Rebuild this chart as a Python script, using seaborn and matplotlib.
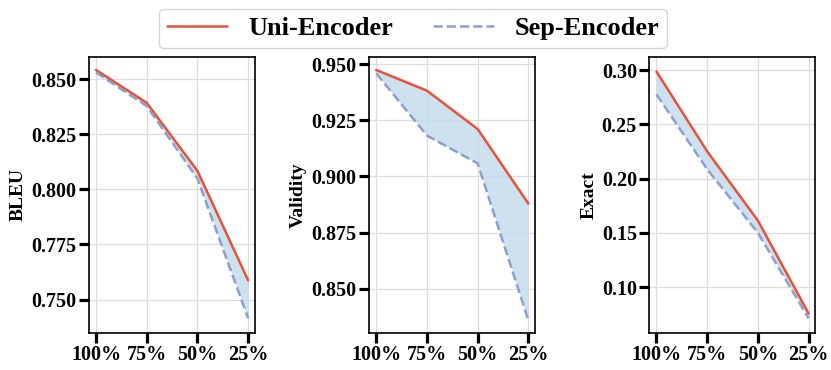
import matplotlib
matplotlib.use('Agg')
import matplotlib.pyplot as plt
import seaborn as sns
import numpy as np

ratios = ['100%', '75%', '50%', '25%']
metrics = ['BLEU', 'Validity', 'Exact']

uni_bleu = [0.8542, 0.8393, 0.8084, 0.7587]
sep_bleu = [0.8531, 0.8378, 0.8049, 0.7415]
uni_validity = [0.9474, 0.9382, 0.9211, 0.8879]
sep_validity = [0.9459, 0.9182, 0.9058, 0.8359]
uni_exact = [0.2985, 0.2250, 0.1612, 0.0757]
sep_exact = [0.2775, 0.2085, 0.1500, 0.0712]

uni = [uni_bleu, uni_validity, uni_exact]
sep = [sep_bleu, sep_validity, sep_exact]
ylims = [(0.7348, 0.8601), (0.8303, 0.9532), (0.0577, 0.312)]
yticks = [[0.750, 0.775, 0.800, 0.825, 0.850],
          [0.850, 0.875, 0.900, 0.925, 0.950],
          [0.10, 0.15, 0.20, 0.25, 0.30]]
yfmt = ['{:.3f}', '{:.3f}', '{:.2f}']

sns.set_style('whitegrid')
plt.rcParams['font.family'] = ['Liberation Serif', 'DejaVu Serif']
plt.rcParams['font.weight'] = 'bold'
plt.rcParams['text.color'] = 'black'
plt.rcParams['axes.labelcolor'] = 'black'
plt.rcParams['xtick.color'] = 'black'
plt.rcParams['ytick.color'] = 'black'

red = '#e8503a'
blue = '#8c9fcf'
fill = '#c5dcec'

fig, axes = plt.subplots(1, 3, figsize=(8.31, 3.70), dpi=100)
plt.subplots_adjust(left=0.107, right=0.981, top=0.846, bottom=0.1, wspace=0.69)

x = np.arange(len(ratios))
for i, ax in enumerate(axes):
    sns.lineplot(x=x, y=uni[i], ax=ax, color=red, linewidth=1.8, label='Uni-Encoder')
    sns.lineplot(x=x, y=sep[i], ax=ax, color=blue, linewidth=1.8, linestyle='--',
                 label='Sep-Encoder')
    ax.fill_between(x, uni[i], sep[i], color=fill, alpha=0.85, linewidth=0)
    ax.set_xlim(-0.14, 3.13)
    ax.set_ylim(*ylims[i])
    ax.set_xticks(x)
    ax.set_xticklabels(ratios, fontsize=14.5, fontweight='bold')
    ax.set_yticks(yticks[i])
    ax.set_yticklabels([yfmt[i].format(v) for v in yticks[i]], fontsize=14.5, fontweight='bold')
    ax.set_ylabel(metrics[i], fontsize=14, fontweight='bold', labelpad=3)
    ax.tick_params(axis='both', which='major', direction='out', length=7.5, width=2.3,
                   color='black', pad=1.5, left=True, bottom=True)
    ax.grid(True, color='#dddddd', linewidth=0.9)
    for s in ax.spines.values():
        s.set_color('black')
        s.set_linewidth(1.2)
    ax.get_legend().remove()

handles, labels = axes[0].get_legend_handles_labels()
fig.legend(handles, labels, loc='upper center', bbox_to_anchor=(0.497, 1.012), ncol=2,
           frameon=True, fancybox=True, edgecolor='#cccccc', handlelength=2.3,
           columnspacing=1.5, borderpad=0.3,
           prop={'family': 'Liberation Serif', 'weight': 'bold', 'size': 19})

fig.savefig('out.png', dpi=100)
